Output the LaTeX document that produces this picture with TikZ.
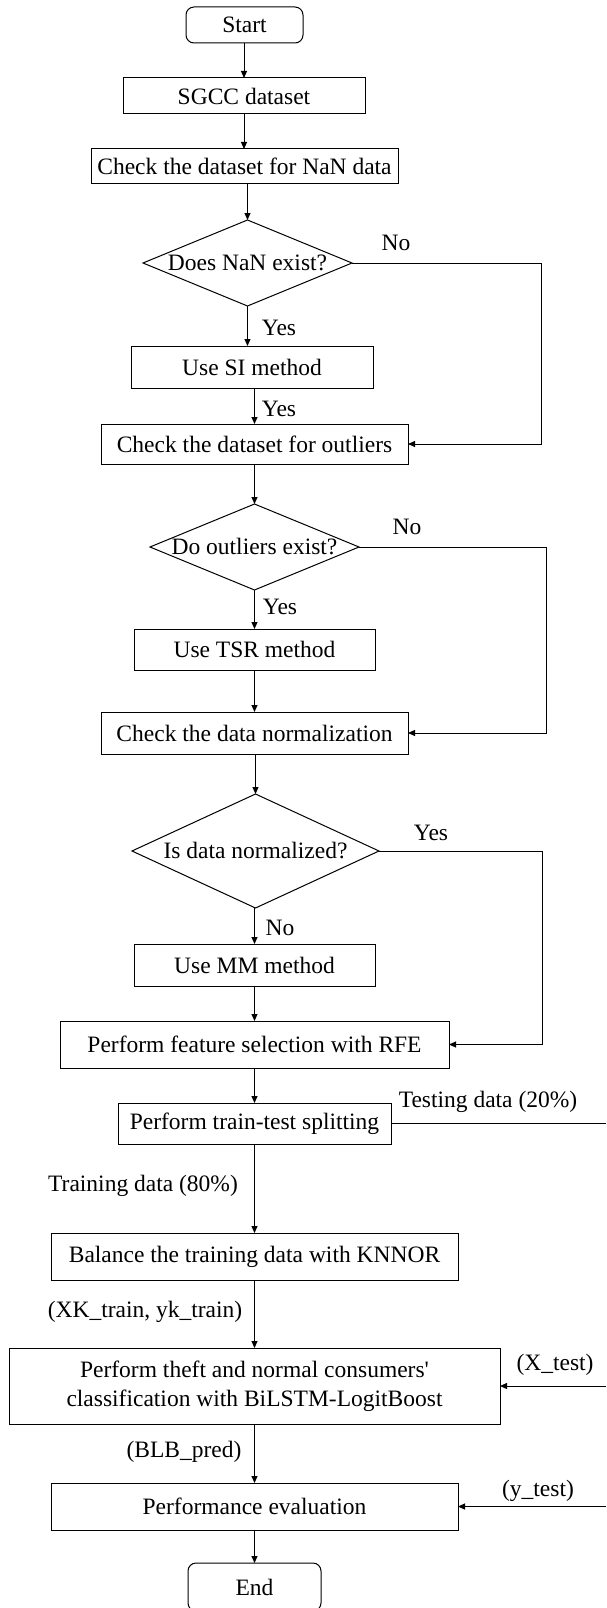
\documentclass[tikz,border=0pt]{standalone}
\usepackage{fontspec}
\setmainfont{Liberation Serif}
\usetikzlibrary{shapes.geometric,arrows.meta}

\begin{document}
\begin{tikzpicture}[x=1pt, y=-1pt,
  font=\fontsize{23.5}{28.5}\selectfont,
  line width=1pt,
  >={Triangle[length=7pt,width=6pt]},
  process/.style={draw, rectangle, inner sep=0, outer sep=0, align=center},
  terminal/.style={draw, rectangle, rounded corners=8pt, inner sep=0, outer sep=0},
  decision/.style={draw, diamond, inner sep=0, outer sep=0}]

  % page frame
  \useasboundingbox (0,0) rectangle (606,1608);
  \coordinate (edge) at (606,0);

  % start and data loading
  \node [terminal, minimum width=117, minimum height=36] (start) at (244.5,25) {Start};
  \node [process, minimum width=242, minimum height=36] (sgcc) at (244,96) {SGCC dataset};
  \node [process, minimum width=307, minimum height=35] (nancheck) at (244.5,166.5) {Check the dataset for NaN data};

  % NaN handling
  \node [decision, aspect=2.43, minimum width=209, minimum height=86] (nanq) at (247.5,263) {Does NaN exist?};
  \node [process, minimum width=242, minimum height=42] (si) at (252,367) {Use SI method};

  % outlier handling
  \node [process, minimum width=307, minimum height=40] (outcheck) at (254.5,444) {Check the dataset for outliers};
  \node [decision, aspect=2.43, minimum width=209, minimum height=86] (outq) at (254.5,547) {Do outliers exist?};
  \node [process, minimum width=241, minimum height=41] (tsr) at (254.5,649.5) {Use TSR method};

  % normalization
  \node [process, minimum width=307, minimum height=42] (normcheck) at (254.5,733) {Check the data normalization};
  \node [decision, aspect=2.17, minimum width=247, minimum height=114] (normq) at (255.5,851) {Is data normalized?};
  \node [process, minimum width=241, minimum height=42] (mm) at (254.5,965) {Use MM method};

  % features, split and balancing
  \node [process, minimum width=389, minimum height=47] (rfe) at (254.5,1044.5) {Perform feature selection with RFE};
  \node [process, minimum width=273, minimum height=41] (split) at (254.5,1123.5) {Perform train-test splitting};
  \node [process, minimum width=407, minimum height=47] (knnor) at (254.5,1256.5) {Balance the training data with KNNOR};

  % classification and evaluation
  \node [process, minimum width=491, minimum height=76] (bilstm) at (254.5,1386) {Perform theft and normal consumers{\textquotesingle}\\classification with BiLSTM-LogitBoost};
  \node [process, minimum width=407, minimum height=47] (perf) at (254.5,1506.5) {Performance evaluation};
  \node [terminal, minimum width=133, minimum height=48] (end) at (254.5,1587) {End};

  % main flow
  \draw [->] (sgcc.north |- start.south) -- (sgcc.north);
  \draw [->] (sgcc.south) -- (sgcc.south |- nancheck.north);
  \draw [->] (nanq.north |- nancheck.south) -- (nanq.north);
  \draw [->] (nanq.south) -- (nanq.south |- si.north);
  \draw [->] (outcheck.north |- si.south) -- (outcheck.north);
  \draw [->] (outcheck.south) -- (outq.north);
  \draw [->] (outq.south) -- (tsr.north);
  \draw [->] (tsr.south) -- (normcheck.north);
  \draw [->] (normcheck.south) -- (normq.north |- normcheck.south) -- (normq.north);
  \draw [->] (mm.north |- normq.south) -- (mm.north);
  \draw [->] (mm.south) -- (rfe.north);
  \draw [->] (rfe.south) -- (split.north);
  \draw [->] (split.south) -- (knnor.north);
  \draw [->] (knnor.south) -- (bilstm.north);
  \draw [->] (bilstm.south) -- (perf.north);
  \draw [->] (perf.south) -- (end.north);

  % bypass lines
  \coordinate (nanbend) at (541,0);
  \coordinate (outbend) at (546,0);
  \coordinate (normbend) at (542,0);
  \draw [->] (nanq.east) -- (nanq.east -| nanbend) |- (outcheck.east);
  \draw [->] (outq.east) -- (outq.east -| outbend) |- (normcheck.east);
  \draw [->] (normq.east) -- (normq.east -| normbend) |- (rfe.east);

  % test data lines
  \draw (split.east) -- (split.east -| edge);
  \draw [->] (bilstm.east -| edge) -- (bilstm.east);
  \draw [->] (perf.east -| edge) -- (perf.east);

  % branch labels
  \node (nanno) at (396,243) {No};
  \node (nanyes) at (279,328) {Yes};
  \node (siyes) at (279,409) {Yes};
  \node (outno) at (407,527) {No};
  \node (outyes) at (280,607) {Yes};
  \node (normyes) at (431,833) {Yes};
  \node (normno) at (280,928) {No};

  % data labels
  \node (testlbl) at (488,1102) {Testing data (20\%)};
  \node (trainlbl) at (143,1186) {Training data (80\%)};
  \node (knnlbl) at (145,1312) {(XK\_train, yk\_train)};
  \node (xtestlbl) at (555,1365) {(X\_test)};
  \node (predlbl) at (184,1452) {(BLB\_pred)};
  \node (ytestlbl) at (538,1491) {(y\_test)};

\end{tikzpicture}
\end{document}
